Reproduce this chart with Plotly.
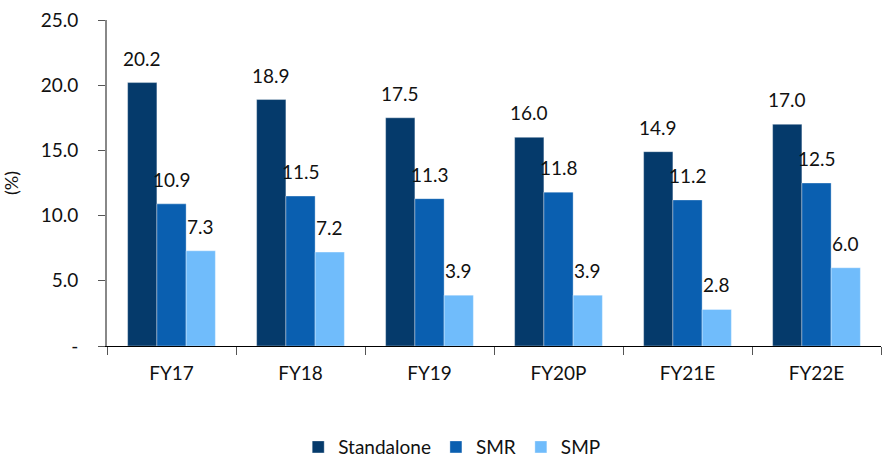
import plotly.graph_objects as go

categories = ["FY17", "FY18", "FY19", "FY20P", "FY21E", "FY22E"]
standalone = [20.2, 18.9, 17.5, 16.0, 14.9, 17.0]
smr = [10.9, 11.5, 11.3, 11.8, 11.2, 12.5]
smp = [7.3, 7.2, 3.9, 3.9, 2.8, 6.0]

series = [
    ("Standalone", standalone, "#053a6b"),
    ("SMR", smr, "#0a5fb0"),
    ("SMP", smp, "#70bcfb"),
]

font_family = "Lato, 'Open Sans', sans-serif"

W, H = 883, 459
ML, MR, MT, MB = 107, 2, 20, 113
BARGAP = 0.32

fig = go.Figure()
for name, vals, color in series:
    fig.add_trace(go.Bar(
        x=categories, y=vals, name=name,
        marker=dict(color=color, line=dict(color="rgba(255,255,255,0.35)", width=1)),
        cliponaxis=False,
    ))

# value labels above each bar, shifted to the bar's slot within its group
cat_px = (W - ML - MR) / len(categories)
bar_px = cat_px * (1 - BARGAP) / len(series)
for i, (name, vals, color) in enumerate(series):
    shift = (i - (len(series) - 1) / 2) * bar_px
    for c, v in zip(categories, vals):
        fig.add_annotation(
            x=c, y=v, text=f"{v:.1f}", showarrow=False,
            xref="x", yref="y", xanchor="center", yanchor="bottom",
            xshift=shift, yshift=11,
            font=dict(size=19, color="#111111", family=font_family),
        )

fig.update_layout(
    width=W, height=H,
    margin=dict(l=ML, r=MR, t=MT, b=MB, autoexpand=False),
    paper_bgcolor="white", plot_bgcolor="white",
    barmode="group", bargap=BARGAP, bargroupgap=0,
    font=dict(family=font_family, size=19, color="#111111"),
    showlegend=True,
    legend=dict(orientation="h", x=0.446, xanchor="center",
                y=-0.31, yanchor="middle",
                font=dict(size=19), itemwidth=30, tracegroupgap=0),
)

fig.update_xaxes(
    showline=True, linecolor="#000000", linewidth=1,
    ticks="outside", tickson="boundaries", ticklen=8, tickcolor="#555555",
    tickfont=dict(size=19), ticklabelstandoff=10,
    showgrid=False, automargin=False,
)
fig.update_yaxes(
    range=[0, 25], tickvals=[0, 5, 10, 15, 20, 25],
    ticktext=["-", "5.0", "10.0", "15.0", "20.0", "25.0"],
    showline=True, linecolor="#888888", linewidth=2,
    ticks="outside", ticklen=7, tickcolor="#555555",
    tickfont=dict(size=19), ticklabelstandoff=16,
    showgrid=False, zeroline=False, automargin=False,
    title=dict(text="(%)", font=dict(size=18), standoff=46),
)

fig.write_html("out.html")
